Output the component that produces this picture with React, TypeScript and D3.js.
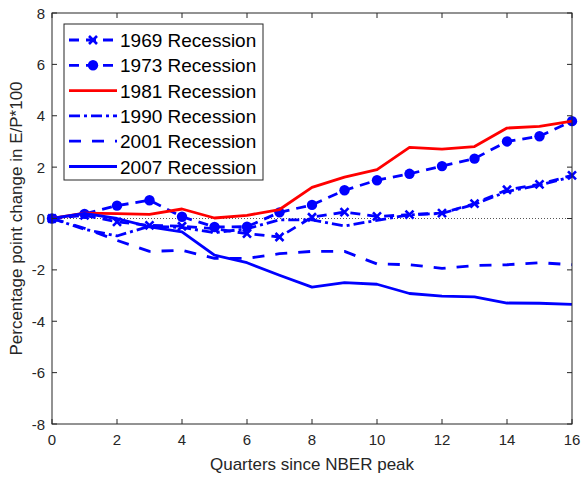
import React from "react";
import * as d3 from "d3";

// Quarters since the NBER business-cycle peak
const quarters = [0, 1, 2, 3, 4, 5, 6, 7, 8, 9, 10, 11, 12, 13, 14, 15, 16];

// Percentage point change in E/P*100 for each recession
const r1969 = [0, 0.12, -0.13, -0.27, -0.3, -0.4, -0.59, -0.72, 0.05, 0.25, 0.08, 0.15, 0.21, 0.58, 1.12, 1.33, 1.68];
const r1973 = [0, 0.18, 0.5, 0.71, 0.07, -0.33, -0.32, 0.24, 0.53, 1.1, 1.49, 1.74, 2.04, 2.33, 3.0, 3.2, 3.79];
const r1981 = [0, 0.21, 0.19, 0.16, 0.37, 0.02, 0.12, 0.35, 1.21, 1.61, 1.9, 2.77, 2.7, 2.8, 3.52, 3.59, 3.79];
const r1990 = [0, -0.42, -0.68, -0.3, -0.35, -0.55, -0.4, -0.05, -0.05, -0.29, -0.07, 0.14, 0.2, 0.55, 1.05, 1.3, 1.63];
const r2001 = [0, -0.38, -0.85, -1.28, -1.24, -1.55, -1.55, -1.37, -1.28, -1.28, -1.77, -1.8, -1.94, -1.83, -1.8, -1.72, -1.8];
const r2007 = [0, 0.2, 0.0, -0.33, -0.52, -1.43, -1.72, -2.21, -2.67, -2.5, -2.56, -2.92, -3.02, -3.05, -3.29, -3.3, -3.34];

const seriesNames = ["1969 Recession", "1973 Recession", "1981 Recession", "1990 Recession", "2001 Recession", "2007 Recession"];

const xTicks = [0, 2, 4, 6, 8, 10, 12, 14, 16];
const yTicks = [-8, -6, -4, -2, 0, 2, 4, 6, 8];

const W = 581;
const H = 478;
const M = { left: 52, right: 572, top: 13, bottom: 424 };
const FONT = "'Liberation Sans', Arial, Helvetica, sans-serif";
const AXIS = "#262626";
const BLUE = "#0000ff";
const RED = "#ff0000";

type Style = { color: string; dash: string | null; marker: "x" | "o" | null };

const styles: Style[] = [
  { color: BLUE, dash: "10,7", marker: "x" },
  { color: BLUE, dash: "10,7", marker: "o" },
  { color: RED, dash: null, marker: null },
  { color: BLUE, dash: "11,4,3,4", marker: null },
  { color: BLUE, dash: "12,11", marker: null },
  { color: BLUE, dash: null, marker: null },
];

const allSeries = [r1969, r1973, r1981, r1990, r2001, r2007];

function Marker({ kind, x, y, color }: { kind: "x" | "o" | null; x: number; y: number; color: string }) {
  if (kind === "o") return <circle cx={x} cy={y} r={5.2} fill={color} stroke="none" />;
  if (kind === "x") {
    const s = 4;
    return (
      <path
        d={`M${x - s},${y - s}L${x + s},${y + s}M${x - s},${y + s}L${x + s},${y - s}`}
        stroke={color}
        strokeWidth={2.6}
        fill="none"
      />
    );
  }
  return null;
}

export default function App() {
  const x = d3.scaleLinear().domain([0, 16]).range([M.left, M.right]);
  const y = d3.scaleLinear().domain([-8, 8]).range([M.bottom, M.top]);

  const line = d3
    .line<number>()
    .x((_, i) => x(quarters[i]))
    .y((d) => y(d));

  const legend = { x: 64, y: 24, w: 199, h: 156, row0: 40, rowH: 25.3 };

  return (
    <svg
      width={W}
      height={H}
      style={{ position: "absolute", left: 0, top: 0, background: "#fff" }}
      fontFamily={FONT}
    >
      <rect x={0} y={0} width={W} height={H} fill="#fff" />

      {/* zero reference */}
      <line
        x1={x(0)}
        x2={x(16)}
        y1={y(0)}
        y2={y(0)}
        stroke="#555"
        strokeWidth={1}
        strokeDasharray="1,2"
      />

      {/* series */}
      {allSeries.map((vals, si) => {
        const st = styles[si];
        return (
          <g key={si}>
            <path
              d={line(vals) || ""}
              fill="none"
              stroke={st.color}
              strokeWidth={2.8}
              strokeDasharray={st.dash || undefined}
              strokeLinejoin="round"
            />
            {st.marker &&
              vals.map((v, i) => (
                <Marker key={i} kind={st.marker} x={x(quarters[i])} y={y(v)} color={st.color} />
              ))}
          </g>
        );
      })}

      {/* axes box */}
      <rect
        x={M.left}
        y={M.top}
        width={M.right - M.left}
        height={M.bottom - M.top}
        fill="none"
        stroke={AXIS}
        strokeWidth={1}
      />
      {xTicks.map((t) => (
        <g key={"xt" + t}>
          <line x1={x(t)} x2={x(t)} y1={M.bottom} y2={M.bottom - 5} stroke={AXIS} />
          <line x1={x(t)} x2={x(t)} y1={M.top} y2={M.top + 5} stroke={AXIS} />
          <text x={x(t)} y={M.bottom + 21} textAnchor="middle" fontSize={15} fill={AXIS}>
            {t}
          </text>
        </g>
      ))}
      {yTicks.map((t) => (
        <g key={"yt" + t}>
          <line x1={M.left} x2={M.left + 5} y1={y(t)} y2={y(t)} stroke={AXIS} />
          <line x1={M.right} x2={M.right - 5} y1={y(t)} y2={y(t)} stroke={AXIS} />
          <text x={M.left - 7} y={y(t) + 5.5} textAnchor="end" fontSize={15} fill={AXIS}>
            {t}
          </text>
        </g>
      ))}

      {/* axis labels */}
      <text x={(M.left + M.right) / 2} y={470} textAnchor="middle" fontSize={17} fill={AXIS}>
        Quarters since NBER peak
      </text>
      <text
        transform={`translate(22,${(M.top + M.bottom) / 2}) rotate(-90)`}
        textAnchor="middle"
        fontSize={17}
        fill={AXIS}
      >
        Percentage point change in E/P*100
      </text>

      {/* legend */}
      <rect x={legend.x} y={legend.y} width={legend.w} height={legend.h} fill="#fff" stroke={AXIS} strokeWidth={1} />
      {seriesNames.map((name, i) => {
        const st = styles[i];
        const cy = legend.row0 + i * legend.rowH;
        return (
          <g key={name}>
            <line
              x1={69}
              x2={117}
              y1={cy}
              y2={cy}
              stroke={st.color}
              strokeWidth={2.8}
              strokeDasharray={st.dash || undefined}
            />
            <Marker kind={st.marker} x={93} y={cy} color={st.color} />
            <text x={120} y={cy + 7} fontSize={19} fill="#000">
              {name}
            </text>
          </g>
        );
      })}
    </svg>
  );
}
